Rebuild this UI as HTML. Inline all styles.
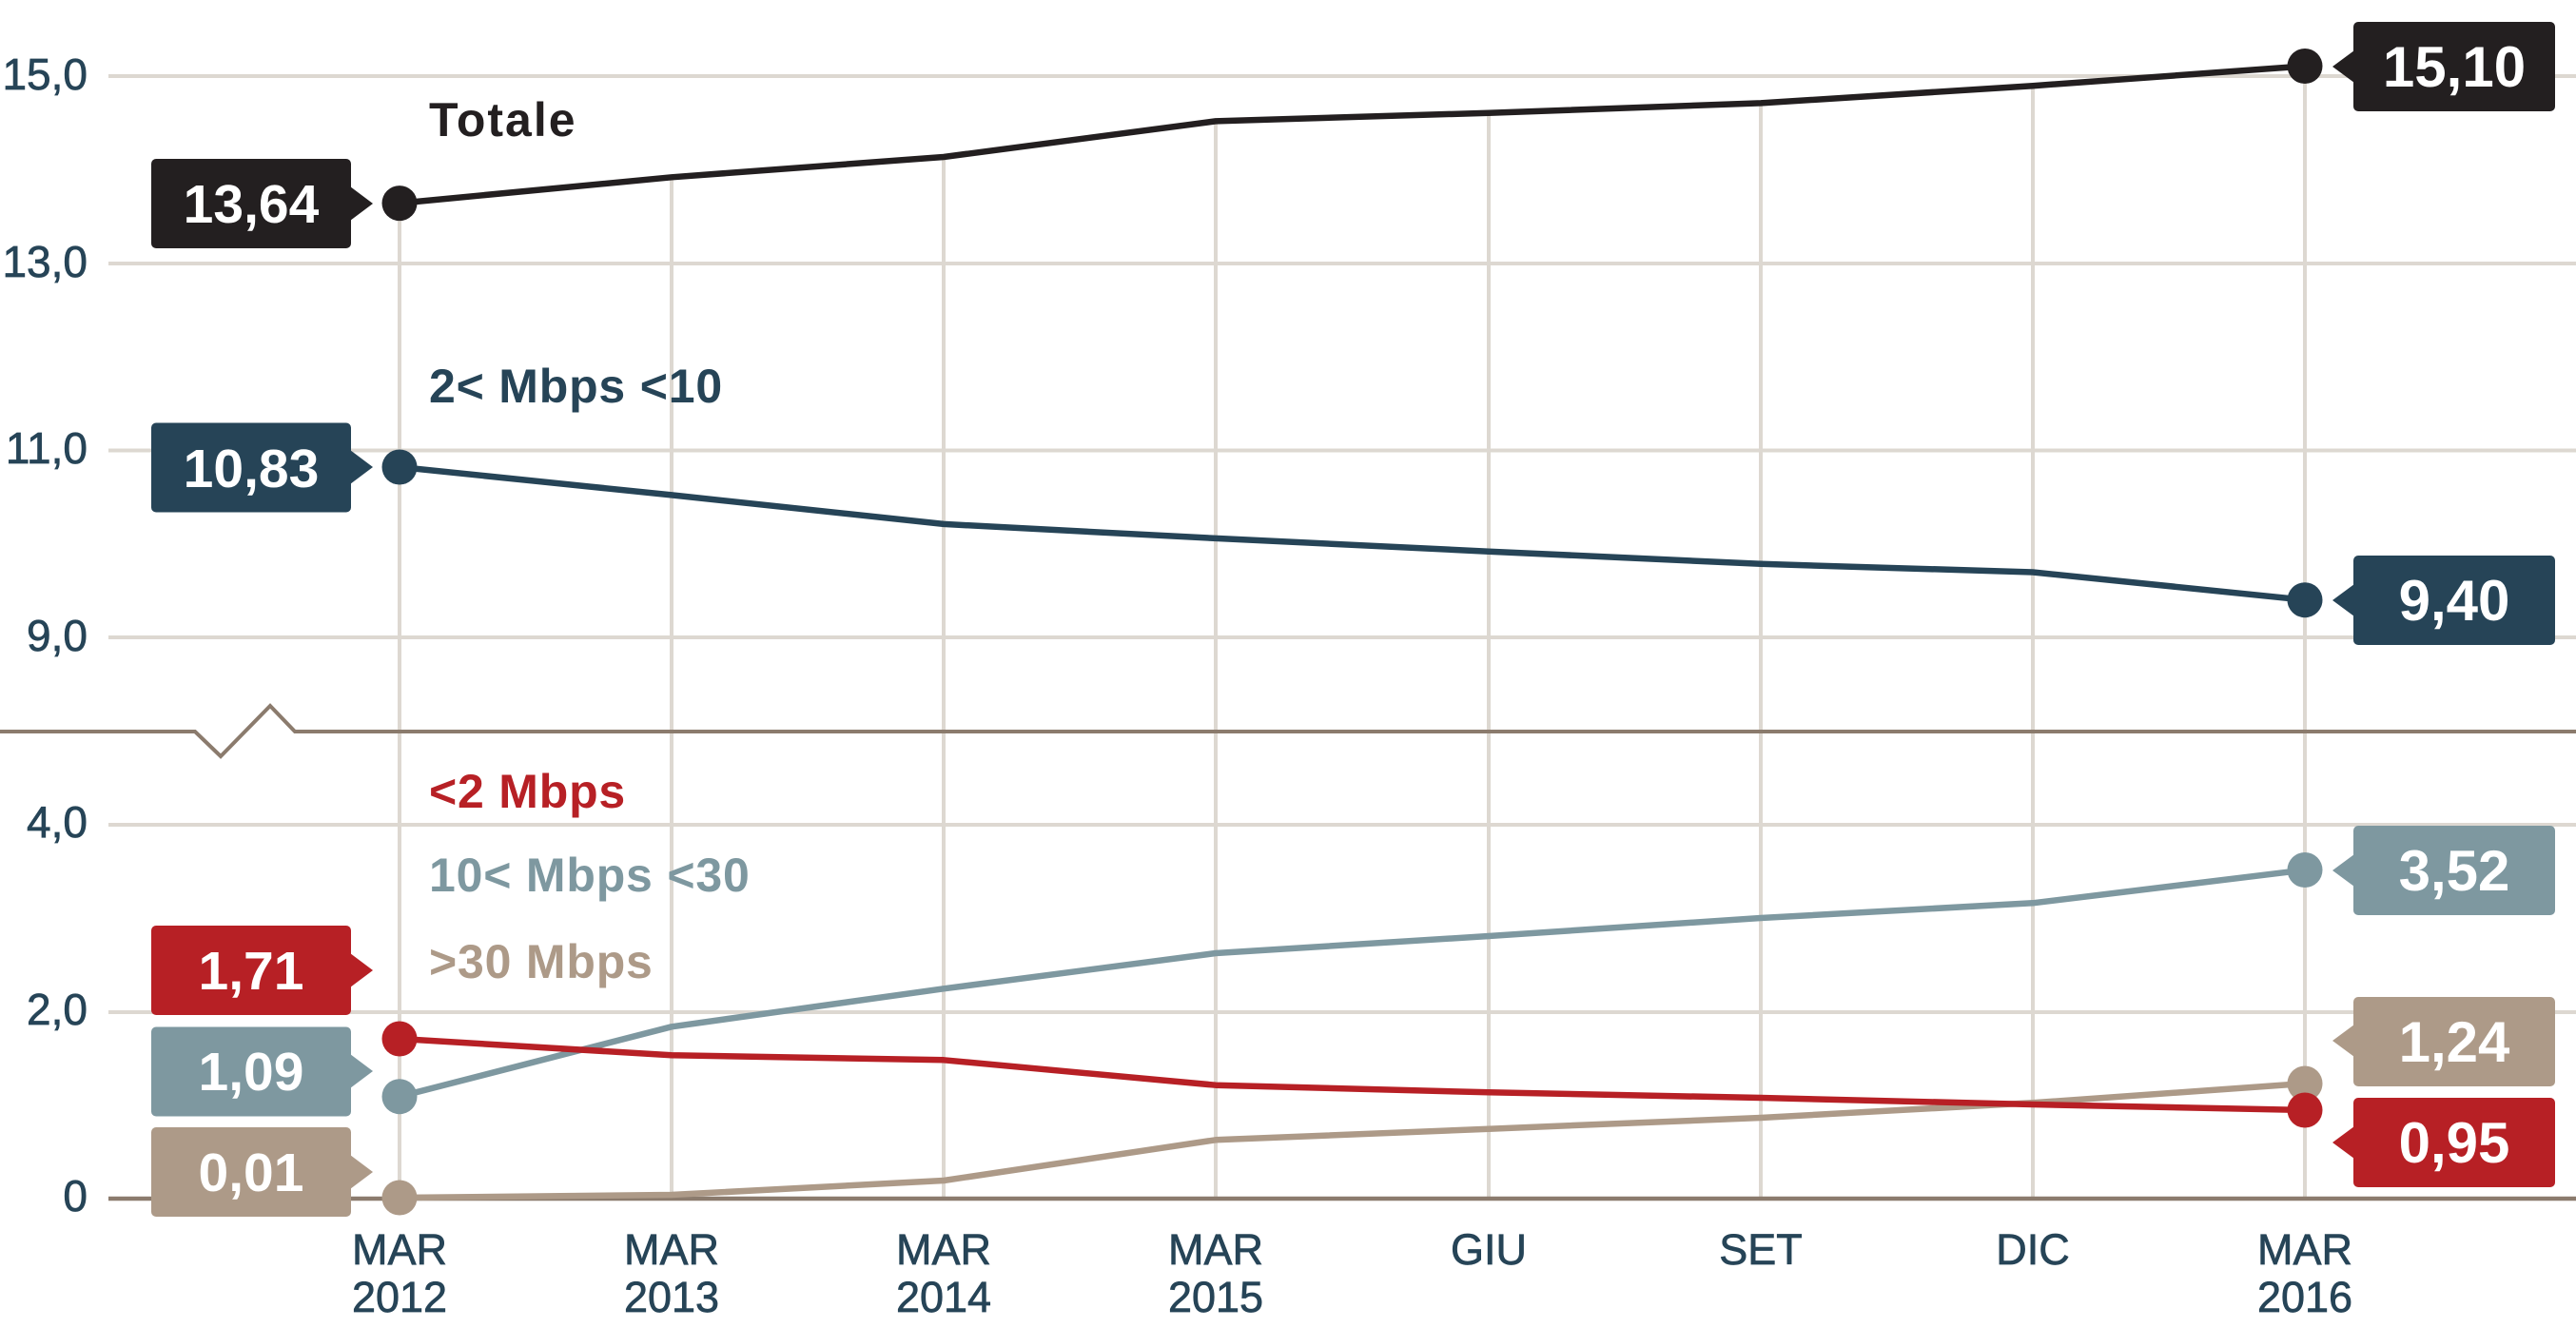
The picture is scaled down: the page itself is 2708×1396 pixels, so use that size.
<!DOCTYPE html>
<html><head><meta charset="utf-8"><style>
html,body{margin:0;padding:0;background:#fff;}
svg{display:block;}
text{font-family:"Liberation Sans",Arial,sans-serif;}
</style></head><body>
<svg width="2708" height="1396" viewBox="0 0 2708 1396" xmlns="http://www.w3.org/2000/svg">
<rect width="2708" height="1396" fill="#fff"/>
<!-- horizontal gridlines -->
<g stroke="#ddd8d1" stroke-width="4">
<line x1="114" y1="80" x2="2708" y2="80"/>
<line x1="114" y1="277" x2="2708" y2="277"/>
<line x1="114" y1="473.5" x2="2708" y2="473.5"/>
<line x1="114" y1="670" x2="2708" y2="670"/>
<line x1="114" y1="867" x2="2708" y2="867"/>
<line x1="114" y1="1064" x2="2708" y2="1064"/>
</g>
<!-- vertical gridlines -->
<g stroke="#ddd8d1" stroke-width="4">
<line x1="420" y1="213" x2="420" y2="1260"/>
<line x1="706" y1="186" x2="706" y2="1260"/>
<line x1="992" y1="165" x2="992" y2="1260"/>
<line x1="1278" y1="127" x2="1278" y2="1260"/>
<line x1="1565" y1="118" x2="1565" y2="1260"/>
<line x1="1851" y1="108" x2="1851" y2="1260"/>
<line x1="2137" y1="90" x2="2137" y2="1260"/>
<line x1="2423" y1="70" x2="2423" y2="1260"/>
</g>
<!-- break line & axis -->
<polyline points="0,769 205,769 232,795 284,742 310,769 2708,769" fill="none" stroke="#8b7b6d" stroke-width="4"/>
<line x1="114" y1="1260" x2="2708" y2="1260" stroke="#8b7b6d" stroke-width="4.5"/>
<!-- y tick labels -->
<g fill="#264457" stroke="#264457" stroke-width="0.7" font-size="46" text-anchor="end">
<text x="92" y="94">15,0</text>
<text x="92" y="291">13,0</text>
<text x="92" y="487">11,0</text>
<text x="92" y="684">9,0</text>
<text x="92" y="880">4,0</text>
<text x="92" y="1077">2,0</text>
<text x="92" y="1273">0</text>
</g>
<!-- x labels -->
<g fill="#264457" stroke="#264457" stroke-width="0.7" font-size="45" text-anchor="middle">
<text x="420" y="1329">MAR</text><text x="420" y="1379">2012</text>
<text x="706" y="1329">MAR</text><text x="706" y="1379">2013</text>
<text x="992" y="1329">MAR</text><text x="992" y="1379">2014</text>
<text x="1278" y="1329">MAR</text><text x="1278" y="1379">2015</text>
<text x="1565" y="1329">GIU</text>
<text x="1851" y="1329">SET</text>
<text x="2137" y="1329">DIC</text>
<text x="2423" y="1329">MAR</text><text x="2423" y="1379">2016</text>
</g>
<!-- series -->
<g fill="none" stroke-width="6.5" stroke-linejoin="round">
<polyline stroke="#231f20" points="420,213.6 706,186.3 992,165 1278,127.4 1565,118.7 1851,108.4 2137,90.2 2423,69.5"/>
<polyline stroke="#264457" points="420,491 706,520.4 992,550.9 1278,565.9 1565,579.7 1851,592.8 2137,601.5 2423,630.7"/>
<polyline stroke="#7e98a0" points="420,1152.7 706,1079.3 992,1039.3 1278,1002 1565,984 1851,965 2137,949.3 2423,914.5"/>
<polyline stroke="#ad9a88" points="420,1259 706,1256 992,1241 1278,1198.3 1565,1186.7 1851,1175 2137,1159.3 2423,1139"/>
<polyline stroke="#b72025" points="420,1092 706,1109.3 992,1114.3 1278,1140.7 1565,1148.3 1851,1154 2137,1161 2423,1167"/>
</g>
<!-- dots -->
<circle cx="420" cy="213.6" r="18.5" fill="#231f20"/>
<circle cx="2423" cy="69.5" r="18.5" fill="#231f20"/>
<circle cx="420" cy="491" r="18.5" fill="#264457"/>
<circle cx="2423" cy="630.7" r="18.5" fill="#264457"/>
<circle cx="420" cy="1152.7" r="18.5" fill="#7e98a0"/>
<circle cx="2423" cy="914.5" r="18.5" fill="#7e98a0"/>
<circle cx="420" cy="1259" r="18.5" fill="#ad9a88"/>
<circle cx="2423" cy="1139" r="18.5" fill="#ad9a88"/>
<circle cx="420" cy="1092" r="18.5" fill="#b72025"/>
<circle cx="2423" cy="1167" r="18.5" fill="#b72025"/>
<!-- series labels -->
<g font-size="50" font-weight="bold" letter-spacing="0.8">
<text x="451" y="143" fill="#231f20" letter-spacing="2">Totale</text>
<text x="451" y="423" fill="#264457">2&lt; Mbps &lt;10</text>
<text x="451" y="849" fill="#b72025">&lt;2 Mbps</text>
<text x="451" y="937" fill="#7e98a0">10&lt; Mbps &lt;30</text>
<text x="451" y="1028" fill="#ad9a88">&gt;30 Mbps</text>
</g>
<!-- left value boxes -->
<g>
<rect x="159" y="167" width="210" height="94" rx="5" fill="#231f20"/>
<polygon points="368,196 392,214 368,232" fill="#231f20"/>
<rect x="159" y="444.5" width="210" height="94" rx="5" fill="#264457"/>
<polygon points="368,473 392,491 368,509" fill="#264457"/>
<rect x="159" y="973" width="210" height="94" rx="5" fill="#b72025"/>
<polygon points="368,1002 392,1020 368,1038" fill="#b72025"/>
<rect x="159" y="1079.5" width="210" height="94" rx="5" fill="#7e98a0"/>
<polygon points="368,1108 392,1126 368,1144" fill="#7e98a0"/>
<rect x="159" y="1185" width="210" height="94" rx="5" fill="#ad9a88"/>
<polygon points="368,1214 392,1232 368,1250" fill="#ad9a88"/>
</g>
<g fill="#fff" font-size="57" font-weight="bold" text-anchor="middle">
<text x="264" y="234">13,64</text>
<text x="264" y="512">10,83</text>
<text x="264" y="1040">1,71</text>
<text x="264" y="1146">1,09</text>
<text x="264" y="1252">0,01</text>
</g>
<!-- right value boxes -->
<g>
<rect x="2474" y="23" width="212" height="94" rx="5" fill="#231f20"/>
<polygon points="2475,53 2452,70 2475,87" fill="#231f20"/>
<rect x="2474" y="584" width="212" height="94" rx="5" fill="#264457"/>
<polygon points="2475,614 2452,631 2475,648" fill="#264457"/>
<rect x="2474" y="868" width="212" height="94" rx="5" fill="#7e98a0"/>
<polygon points="2475,898 2452,915 2475,932" fill="#7e98a0"/>
<rect x="2474" y="1048" width="212" height="94" rx="5" fill="#ad9a88"/>
<polygon points="2475,1077 2452,1094 2475,1111" fill="#ad9a88"/>
<rect x="2474" y="1154" width="212" height="94" rx="5" fill="#b72025"/>
<polygon points="2475,1184 2452,1201 2475,1218" fill="#b72025"/>
</g>
<g fill="#fff" font-size="60" font-weight="bold" text-anchor="middle">
<text x="2580" y="91">15,10</text>
<text x="2580" y="652">9,40</text>
<text x="2580" y="936">3,52</text>
<text x="2580" y="1116">1,24</text>
<text x="2580" y="1222">0,95</text>
</g>
</svg>
</body></html>
